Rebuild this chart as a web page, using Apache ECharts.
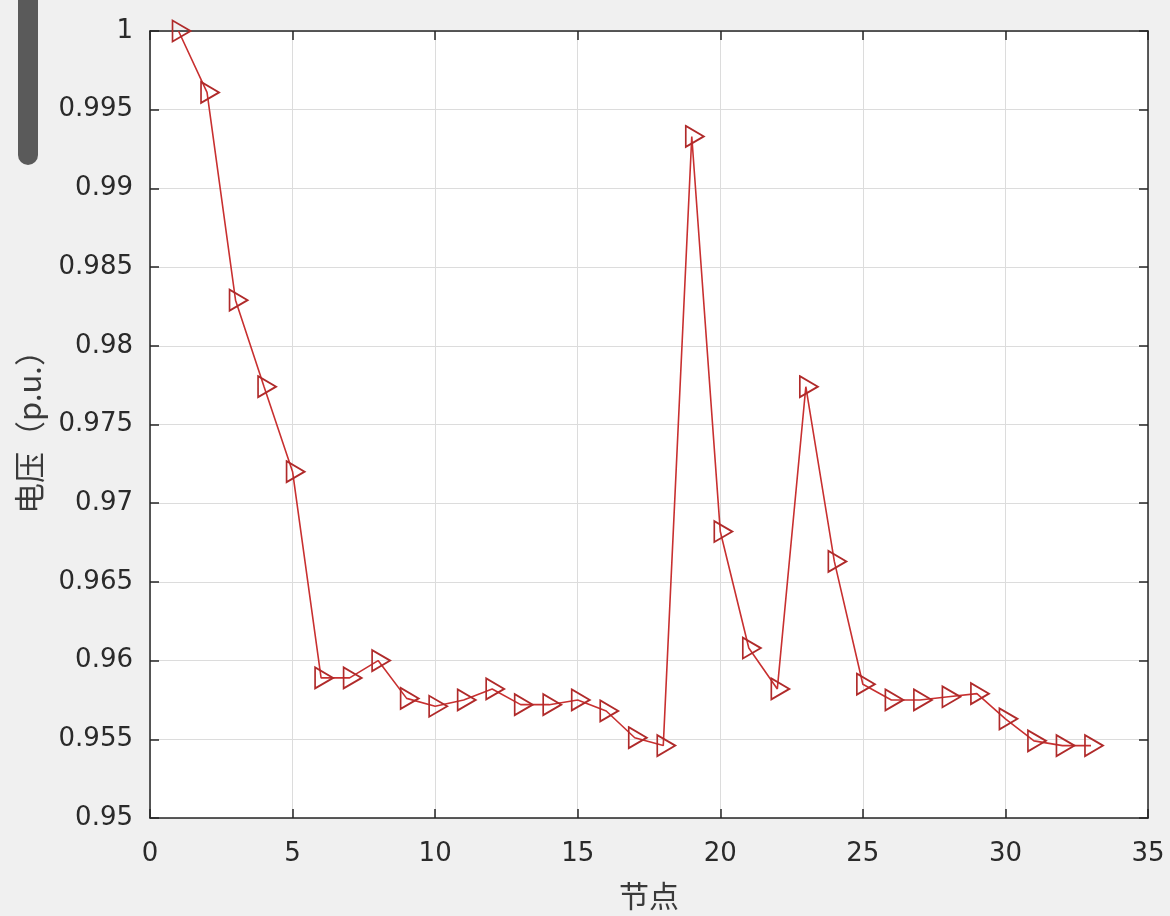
<!DOCTYPE html>
<html>
<head>
<meta charset="utf-8">
<script src="https://cdn.jsdelivr.net/npm/echarts@6/dist/echarts.min.js"></script>
<style>
html,body{margin:0;padding:0;background:#f0f0f0;}
#chart{width:1170px;height:916px;}
</style>
</head>
<body>
<div id="chart"></div>
<script>
// Data
const nodes = [1,2,3,4,5,6,7,8,9,10,11,12,13,14,15,16,17,18,19,20,21,22,23,24,25,26,27,28,29,30,31,32,33];
const voltages = [1.0000,0.9961,0.9829,0.9774,0.9720,0.9589,0.9589,0.9600,0.9576,0.9571,0.9575,0.9582,0.9572,0.9572,0.9575,0.9568,0.9551,0.9546,0.9933,0.9682,0.9608,0.9582,0.9774,0.9663,0.9585,0.9575,0.9575,0.9577,0.9579,0.9563,0.9549,0.9546,0.9546];
const xTicks = [0,5,10,15,20,25,30,35];
const yTicks = [0.95,0.955,0.96,0.965,0.97,0.975,0.98,0.985,0.99,0.995,1];
const xLabel = '节点';
const yLabel = '电压（p.u.）';

const chart = echarts.init(document.getElementById('chart'), null, {renderer:'canvas'});
const axisColor = '#262626';
const textColor = '#2a2a2a';
const fontFam = 'DejaVu Sans, sans-serif';
const seriesData = nodes.map((n,i)=>[n, voltages[i]]);

const baseX = {
  type:'value', min:xTicks[0], max:xTicks[xTicks.length-1], interval:5,
  axisLine:{show:true, onZero:false, lineStyle:{color:axisColor, width:1.5}},
  axisTick:{show:true, inside:true, length:9, lineStyle:{color:axisColor, width:1.5}},
  splitLine:{show:false}
};
const baseY = {
  type:'value', min:yTicks[0], max:yTicks[yTicks.length-1], interval:0.005,
  axisLine:{show:true, onZero:false, lineStyle:{color:axisColor, width:1.5}},
  axisTick:{show:true, inside:true, length:9, lineStyle:{color:axisColor, width:1.5}},
  splitLine:{show:false}
};

chart.setOption({
  backgroundColor:'#f0f0f0',
  animation:false,
  graphic:[{
    type:'rect', left:18, top:-20, shape:{width:20, height:185, r:[0,0,10,10]},
    style:{fill:'#5a5a5a'}, z:100
  }],
  grid:{left:150, right:22, top:31, bottom:97, show:true, backgroundColor:'#ffffff', borderColor:axisColor, borderWidth:0},
  xAxis:[
    Object.assign({}, baseX, {
      position:'bottom',
      name:xLabel, nameLocation:'middle', nameGap:63,
      nameTextStyle:{fontFamily:'Noto Sans CJK SC', fontSize:30, color:'#3a3a3a'},
      axisLabel:{show:true, margin:23, fontSize:26, color:textColor, fontFamily:fontFam,
        formatter:v=>String(v)},
      splitLine:{show:true, lineStyle:{color:'#dcdcdc', width:1}}
    }),
    Object.assign({}, baseX, {position:'top', axisLabel:{show:false}})
  ],
  yAxis:[
    Object.assign({}, baseY, {
      position:'left',
      name:yLabel, nameLocation:'middle', nameGap:105, nameRotate:90,
      nameTextStyle:{fontFamily:'Noto Sans CJK SC', fontSize:31, color:'#3a3a3a'},
      axisLabel:{show:true, margin:17, fontSize:26, color:textColor, fontFamily:fontFam,
        formatter:v=>String(parseFloat(Number(v).toFixed(3)))},
      splitLine:{show:true, lineStyle:{color:'#dcdcdc', width:1}}
    }),
    Object.assign({}, baseY, {position:'right', axisLabel:{show:false}})
  ],
  series:[{
    type:'line',
    xAxisIndex:0, yAxisIndex:0,
    data:seriesData,
    symbol:'path://M0,0 L10,5 L0,10 Z',
    symbolSize:[18,21],
    symbolOffset:[3,0],
    showAllSymbol:true,
    lineStyle:{color:'#c83030', width:1.6},
    itemStyle:{color:'rgba(255,255,255,0)', borderColor:'#b02a2a', borderWidth:1.8},
    emphasis:{disabled:true}
  }]
});
</script>
</body>
</html>
